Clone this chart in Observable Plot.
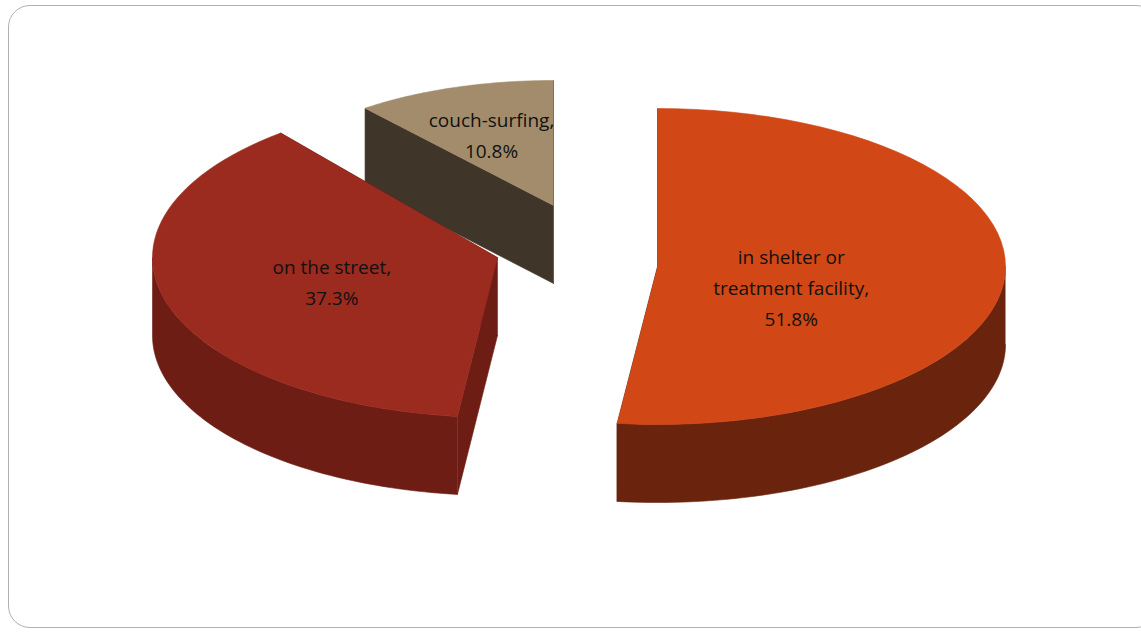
<!DOCTYPE html>
<html><head><meta charset="utf-8">
<script src="https://cdn.jsdelivr.net/npm/d3@7"></script>
<script src="https://cdn.jsdelivr.net/npm/@observablehq/plot@0.6"></script>
<style>
body{margin:0;background:#fff;font-family:"Open Sans",sans-serif}
#frame{position:absolute;left:8px;top:5px;width:1150px;height:623px;border:1.5px solid #b0b0b0;border-radius:22px;box-sizing:border-box}
#chart{position:absolute;left:0;top:0}
</style></head><body>
<div id="frame"></div><div id="chart"></div>
<script>
const categories = ["in shelter or\ntreatment facility", "on the street", "couch-surfing"];
const values = [51.8, 37.3, 10.8];
const topColors = ["#D14716", "#9B2A1F", "#A38C6C"];
const sideColors = ["#6a230c", "#6e1d15", "#3f3529"];
// layout config (pixel geometry of the exploded 3D pie)
const apexX = [657, 497, 553], apexY = [266, 257, 205];
const radX = [348, 345, 300], radY = [158, 160, 125];
const depth = 78;

const total = d3.sum(values);
let acc = 0;
const slices = values.map((v, i) => {
  const a0 = acc / total * 2 * Math.PI; acc += v;
  const a1 = acc / total * 2 * Math.PI;
  return {i, a0, a1};
});
const pt = (s, a, dz = 0) => [apexX[s.i] + radX[s.i] * Math.sin(a), apexY[s.i] - radY[s.i] * Math.cos(a) + dz];
const rows = [];
let id = 0;
function poly(points, fill) { id++; points.forEach(([x, y]) => rows.push({id, x, y, fill})); }
const arc = (s, from, to, dz) => d3.range(0, 61).map(k => pt(s, from + (to - from) * k / 60, dz));
for (const s of [slices[2], slices[1], slices[0]]) {
  const ax = apexX[s.i], ay = apexY[s.i];
  for (const a of [s.a0, s.a1]) {
    const p = pt(s, a);
    poly([[ax, ay], p, [p[0], p[1] + depth], [ax, ay + depth]], sideColors[s.i]);
  }
  const lo = Math.max(s.a0, Math.PI / 2), hi = Math.min(s.a1, 3 * Math.PI / 2);
  if (hi > lo) poly([...arc(s, lo, hi, 0), ...arc(s, hi, lo, depth)], sideColors[s.i]);
  poly([[ax, ay], ...arc(s, s.a0, s.a1, 0)], topColors[s.i]);
}
const labels = slices.map(s => {
  const m = (s.a0 + s.a1) / 2;
  const f = s.i === 2 ? 0.62 : 0.5;
  return {x: apexX[s.i] + f * radX[s.i] * Math.sin(m) - (s.i === 0 ? 40 : 0),
          y: apexY[s.i] - f * radY[s.i] * Math.cos(m) + (s.i === 0 ? 14 : 0),
          text: categories[s.i] + ",\n" + values[s.i].toFixed(1) + "%"};
});
const chart = Plot.plot({
  width: 1141, height: 632, margin: 0,
  x: {type: "identity", axis: null}, y: {type: "identity", axis: null},
  marks: [
    Plot.line(rows, {x: "x", y: "y", z: "id", fill: "fill", stroke: "fill", strokeWidth: 0.6, curve: "linear"}),
    Plot.text(labels, {x: "x", y: "y", text: "text", fontSize: 19, fill: "#111", lineHeight: 1.65, fontFamily: "Open Sans"})
  ]
});
document.getElementById("chart").append(chart);
</script></body></html>
